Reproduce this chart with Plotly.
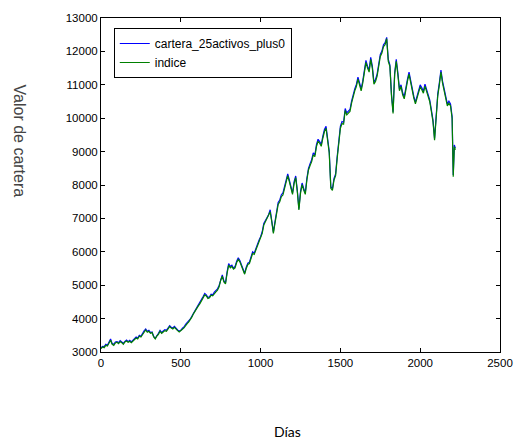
import plotly.graph_objects as go

dias = list(range(0, 2201, 10)) + [2207, 2214, 2220]

indice = [
    3100, 3150, 3130, 3200, 3180, 3260, 3350, 3230, 3200, 3270,
    3290, 3250, 3310, 3280, 3230, 3300, 3330, 3290, 3320, 3280,
    3330, 3360, 3420, 3390, 3470, 3450, 3530, 3600, 3660, 3590,
    3620, 3560, 3580, 3450, 3390, 3480, 3530, 3620, 3560, 3600,
    3640, 3620, 3700, 3760, 3720, 3690, 3740, 3680, 3640, 3600,
    3630, 3680, 3720, 3800, 3850, 3900, 3960, 4050, 4150, 4240,
    4300, 4380, 4450, 4530, 4620, 4710, 4680, 4600, 4620, 4700,
    4680, 4760, 4800, 4850, 4950, 5150, 5270, 5100, 5040, 5350,
    5600, 5520, 5560, 5480, 5520, 5680, 5770, 5700, 5560, 5450,
    5330, 5500, 5620, 5650, 5780, 5950, 5920, 6050, 6160, 6300,
    6400, 6550, 6800, 6900, 6950, 7050, 7200, 6900, 6550, 6850,
    7150, 7420, 7500, 7650, 7700, 7900, 8130, 8280, 8100, 7900,
    7720, 8050, 8220, 7800, 7250, 7750, 8010, 7850, 7720, 8150,
    8450, 8580, 8700, 8900, 8850, 9150, 9310, 9250, 9160, 9400,
    9600, 9700, 9300, 8960, 7900, 7840, 8150, 8280, 8800, 9250,
    9700, 9840, 9820, 10230, 10100, 10150, 10200, 10450, 10650, 10820,
    10950, 11170, 11000, 10820, 11050, 11400, 11670, 11500, 11380, 11760,
    11500, 11020, 11100, 11260, 11500, 11850, 11950, 12140, 12200, 12380,
    11700, 11550, 10670, 10140, 11300, 11700, 11300, 10820, 10950, 10700,
    10580, 10900, 11100, 11320, 11050, 10790, 10600, 10430, 10600, 10800,
    10940, 10850, 10750, 10960, 10800, 10600, 10490, 10200, 9900, 9340,
    10100, 10670, 11000, 11380, 11050, 10790, 10600, 10370, 10450, 10370,
    9990, 8250, 9150, 9050,
]

cartera = [
    3120, 3170, 3160, 3230, 3200, 3290, 3390, 3250, 3230, 3300,
    3310, 3280, 3340, 3300, 3260, 3320, 3360, 3310, 3350, 3300,
    3350, 3390, 3450, 3420, 3500, 3470, 3560, 3630, 3690, 3620,
    3650, 3580, 3600, 3470, 3410, 3510, 3560, 3650, 3580, 3630,
    3670, 3650, 3730, 3790, 3740, 3720, 3770, 3700, 3660, 3620,
    3650, 3710, 3750, 3830, 3880, 3930, 3990, 4080, 4180, 4270,
    4330, 4410, 4480, 4560, 4660, 4750, 4710, 4630, 4650, 4730,
    4710, 4790, 4840, 4890, 4990, 5200, 5310, 5130, 5070, 5400,
    5650, 5560, 5600, 5510, 5560, 5720, 5820, 5740, 5590, 5480,
    5360, 5540, 5660, 5690, 5830, 6000, 5960, 6100, 6210, 6350,
    6450, 6600, 6850, 6950, 7000, 7110, 7260, 6940, 6590, 6900,
    7200, 7480, 7550, 7710, 7760, 7960, 8190, 8330, 8150, 7950,
    7760, 8100, 8270, 7840, 7290, 7800, 8060, 7900, 7760, 8200,
    8500, 8640, 8760, 8960, 8900, 9210, 9370, 9300, 9210, 9460,
    9660, 9760, 9350, 9010, 7950, 7880, 8200, 8330, 8860, 9310,
    9760, 9900, 9880, 10290, 10160, 10210, 10260, 10510, 10710, 10880,
    11010, 11230, 11060, 10880, 11110, 11460, 11730, 11560, 11440, 11820,
    11560, 11080, 11160, 11320, 11560, 11910, 12010, 12200, 12260, 12420,
    11760, 11600, 10720, 10190, 11360, 11760, 11360, 10870, 11000, 10760,
    10640, 10960, 11160, 11380, 11100, 10840, 10650, 10480, 10650, 10860,
    11000, 10910, 10810, 11020, 10860, 10650, 10540, 10250, 9950, 9390,
    10150, 10730, 11060, 11440, 11110, 10850, 10660, 10430, 10510, 10430,
    10050, 8300, 9200, 9100,
]

fig = go.Figure()
fig.add_trace(go.Scatter(x=dias, y=cartera, mode="lines", name="cartera_25activos_plus0",
                         line=dict(color="#0000FF", width=1.2)))
fig.add_trace(go.Scatter(x=dias, y=indice, mode="lines", name="indice",
                         line=dict(color="#008000", width=1.2)))

axis_common = dict(showline=True, linecolor="black", linewidth=1, mirror="allticks",
                   ticks="inside", ticklen=4, tickcolor="black", showgrid=False,
                   zeroline=False, tickfont=dict(family="Arial", size=11.5, color="black"))

fig.update_xaxes(range=[0, 2500], dtick=500, tick0=0, tickformat="d", **axis_common)
fig.update_yaxes(range=[3000, 13000], dtick=1000, tick0=3000, tickformat="d", **axis_common)

fig.update_layout(
    width=525, height=446,
    margin=dict(l=101, r=14, t=12, b=94),
    plot_bgcolor="white", paper_bgcolor="white",
    showlegend=True,
    legend=dict(x=0.032, y=0.97, xanchor="left", yanchor="top",
                bgcolor="white", bordercolor="black", borderwidth=1,
                font=dict(family="Arial", size=12, color="black"),
                tracegroupgap=0, itemwidth=30),
    annotations=[
        dict(text="Valor de cartera", xref="paper", yref="paper",
             x=(17 - 101) / 410, y=(352 - 137) / 340,
             xanchor="center", yanchor="middle", textangle=90, showarrow=False,
             font=dict(family="Arial", size=16, color="#444444")),
        dict(text="Días", xref="paper", yref="paper",
             x=(293 - 101) / 410, y=(352 - 433) / 340,
             xanchor="center", yanchor="middle", showarrow=False,
             font=dict(family="Lato", size=14, color="black")),
    ],
)

fig.write_html("out.html")
